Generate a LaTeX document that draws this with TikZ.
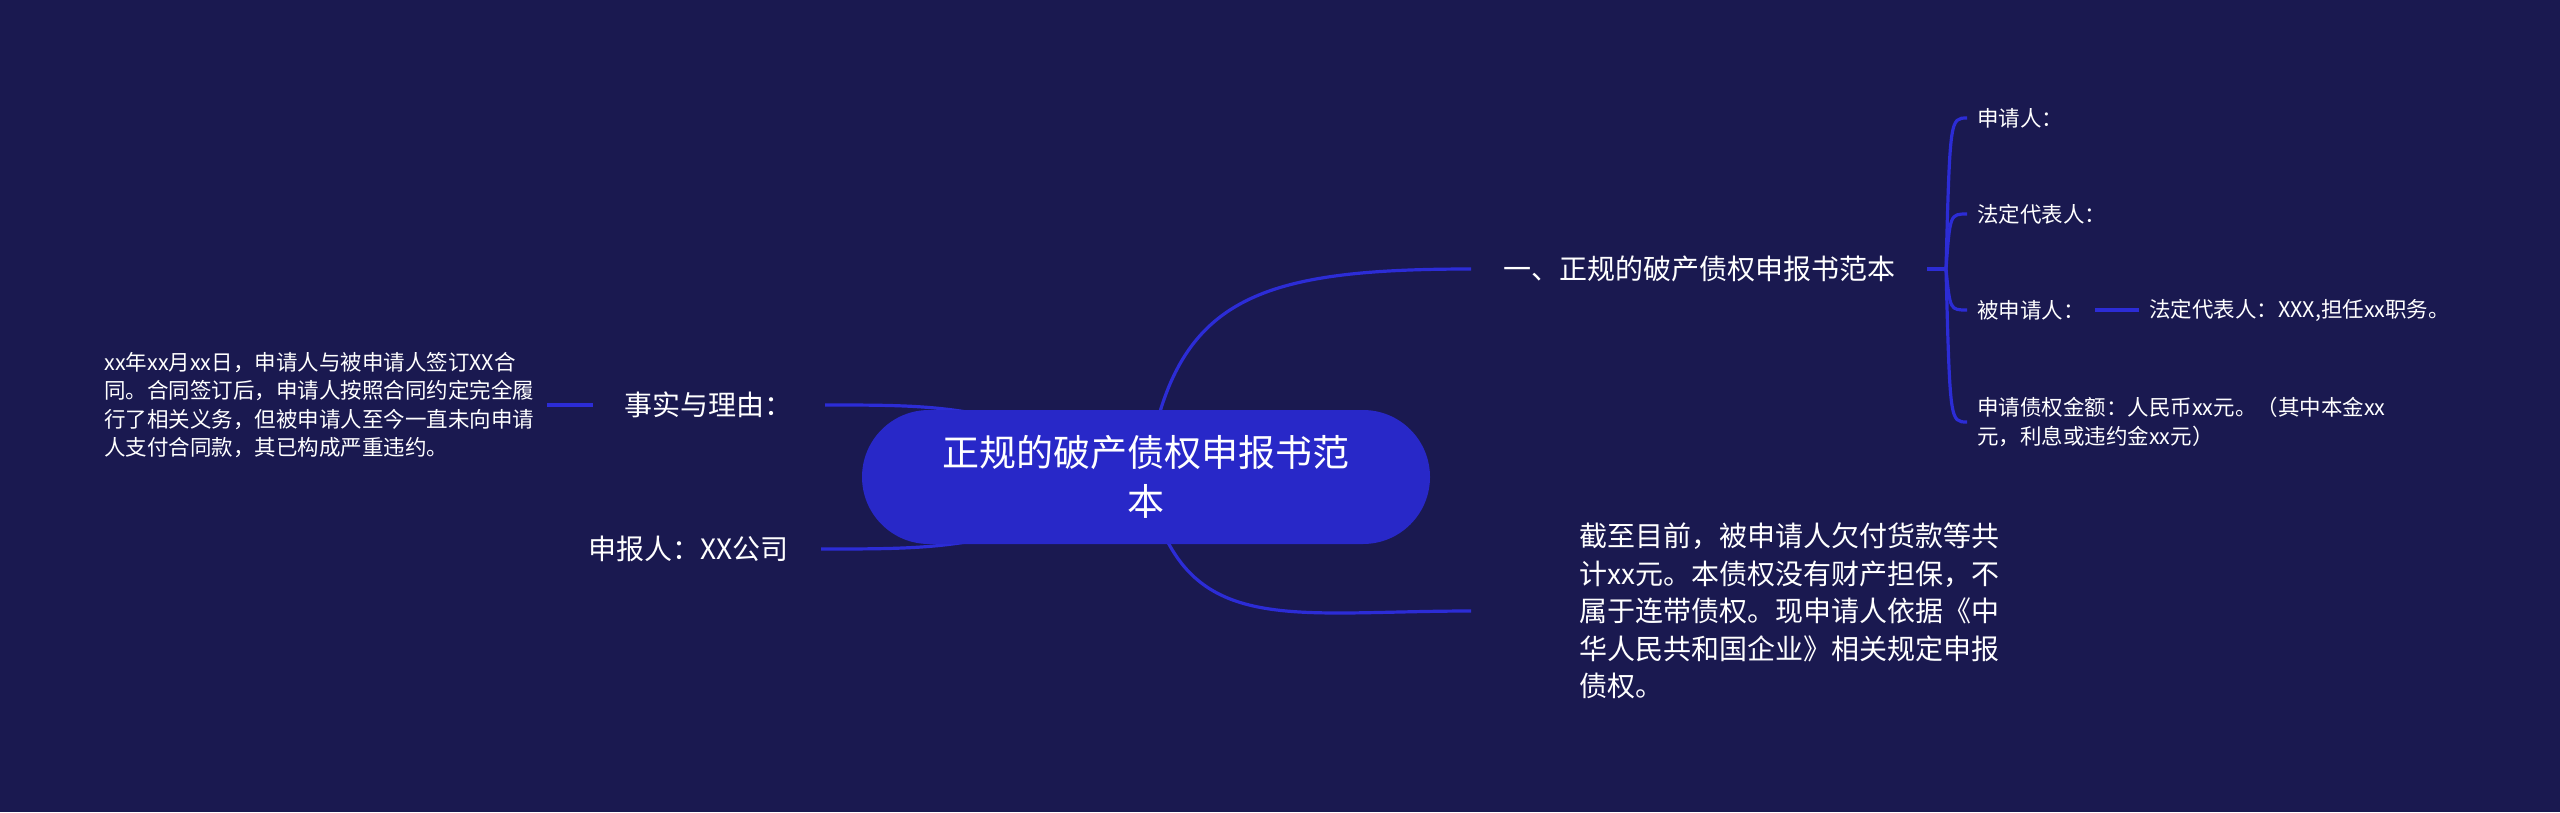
\documentclass[tikz,border=0pt]{standalone}
\usepackage{fontspec}
\setmainfont{Noto Sans CJK SC}
\usetikzlibrary{positioning}
\definecolor{navy}{RGB}{26,25,80}
\definecolor{rootblue}{RGB}{40,40,200}
\definecolor{linkblue}{RGB}{44,44,214}
\pgfdeclarelayer{bg}
\pgfsetlayers{bg,main}

\begin{document}
\begin{tikzpicture}[x=1pt, y=-1pt,
  root/.style={fill=rootblue, rounded corners=67pt, minimum width=568pt, minimum height=134pt, text=white, align=center, font=\fontsize{37}{49}\selectfont},
  topic/.style={text=white, inner ysep=0pt, inner xsep=32pt, align=left, font=\fontsize{28}{37.5}\selectfont},
  leaf/.style={text=white, inner ysep=0pt, inner xsep=10pt, align=left, font=\fontsize{21.5}{28.5}\selectfont},
  link/.style={draw=linkblue, line width=3.2pt}]
\useasboundingbox (0,0) rectangle (2560,812);
\node[root] (r) at (1146,477) {正规的破产债权申报书范\\本};
\node[topic, anchor=west] (b1) at (1471,269) {一、正规的破产债权申报书范本};
\node[leaf, anchor=west] (c1) at (1967,118) {申请人：};
\node[leaf, anchor=west] (c2) at (1967,214) {法定代表人：};
\node[leaf, anchor=west] (c3) at (1967,310) {被申请人：};
\node[leaf, right=44pt of c3] (c3a) {法定代表人：XXX,担任xx职务。};
\node[leaf, anchor=west] (c4) at (1967,422) {申请债权金额：人民币xx元。（其中本金xx\\元，利息或违约金xx元）};
\node[topic, inner xsep=0pt, anchor=west] (b2) at (1579,611) {截至目前，被申请人欠付货款等共\\计xx元。本债权没有财产担保，不\\属于连带债权。现申请人依据《中\\华人民共和国企业》相关规定申报\\债权。};
\node[topic, anchor=east] (l1) at (825,405) {事实与理由：};
\node[leaf, inner xsep=12pt, left=46pt of l1] (l1p) {xx年xx月xx日，申请人与被申请人签订XX合\\同。合同签订后，申请人按照合同约定完全履\\行了相关义务，但被申请人至今一直未向申请\\人支付合同款，其已构成严重违约。};
\node[topic, anchor=east] (l2) at (821,549) {申报人：XX公司};
\coordinate (fork) at (1946,269);
\begin{pgfonlayer}{bg}
\fill[navy] (0,0) rectangle (2560,812);
\draw[link] (r.center) .. controls (1172,300) and (1250,269) .. (b1.west);
\draw[link] (r.center) .. controls (1180,640) and (1280,611) .. ([xshift=-108pt]b2.west);
\draw[link] (r.center) .. controls (1000,405) and (950,405) .. (l1.east);
\draw[link] (r.center) .. controls (1000,549) and (950,549) .. (l2.east);
\draw[link] (b1.east) -- (fork);
\draw[link] (fork) .. controls (1950,118) and (1950,118) .. (c1.west);
\draw[link] (fork) .. controls (1950,214) and (1950,214) .. (c2.west);
\draw[link] (fork) .. controls (1950,310) and (1950,310) .. (c3.west);
\draw[link] (fork) .. controls (1950,422) and (1950,422) .. (c4.west);
\draw[link] (c3.east) -- (c3a.west);
\draw[link] (l1.west) -- (l1p.east);
\end{pgfonlayer}
\end{tikzpicture}
\end{document}
